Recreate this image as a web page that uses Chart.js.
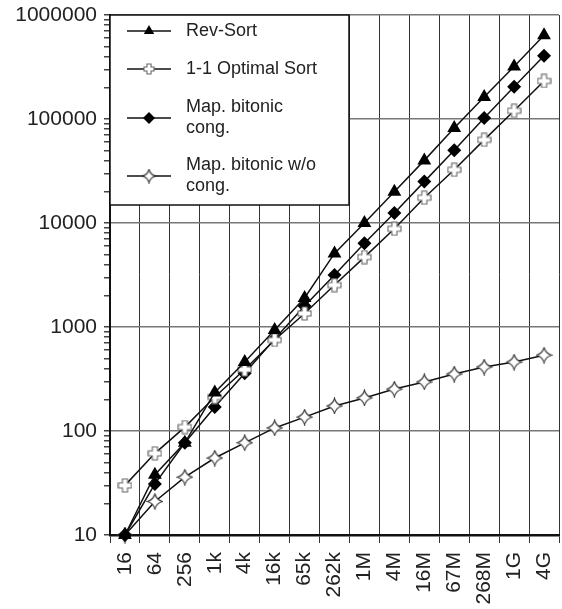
<!DOCTYPE html>
<html>
<head>
<meta charset="utf-8">
<script src="https://cdn.jsdelivr.net/npm/chart.js@4.4.0/dist/chart.umd.min.js"></script>
<style>
  html, body { margin: 0; padding: 0; background: #fff; }
  #wrap { width: 562px; height: 609px; }
</style>
</head>
<body>
<div id="wrap"><canvas id="chart"></canvas></div>
<script>
const categories = ['16', '64', '256', '1k', '4k', '16k', '65k', '262k', '1M', '4M', '16M', '67M', '268M', '1G', '4G']
const revSort = [10, 38, 77, 235, 460, 935, 1900, 5100, 10000, 20000, 40000, 82000, 163000, 320000, 640000]
const optimalSort = [30, 61, 109, 212, 390, 750, 1350, 2530, 4700, 8800, 17500, 32500, 63000, 120000, 232000]
const bitonicCong = [10, 31, 77, 170, 360, 765, 1590, 3160, 6400, 12500, 25000, 50000, 102000, 204000, 405000]
const bitonicNoCong = [10, 21, 36, 55, 77, 107, 136, 174, 208, 253, 296, 353, 412, 460, 536]
const seriesNames = ['Rev-Sort', '1-1 Optimal Sort', ['Map. bitonic', 'cong.'], ['Map. bitonic w/o', 'cong.']]
const decades = [10, 100, 1000, 10000, 100000, 1000000]

const FONT = '"Liberation Sans", Arial, sans-serif'

// outlined plus marker
function plusMarker(size){
  const c = document.createElement('canvas')
  c.width = size; c.height = size
  const g = c.getContext('2d')
  const m = size / 2, r = size / 2 - 1, w = size * 0.17
  g.beginPath()
  g.moveTo(m - w, m - r); g.lineTo(m + w, m - r); g.lineTo(m + w, m - w)
  g.lineTo(m + r, m - w); g.lineTo(m + r, m + w); g.lineTo(m + w, m + w)
  g.lineTo(m + w, m + r); g.lineTo(m - w, m + r); g.lineTo(m - w, m + w)
  g.lineTo(m - r, m + w); g.lineTo(m - r, m - w); g.lineTo(m - w, m - w)
  g.closePath()
  g.fillStyle = '#fff'; g.fill()
  g.strokeStyle = '#666'; g.lineWidth = 1.1; g.stroke()
  return c
}

// hollow four-point star marker
function starMarker(size){
  const c = document.createElement('canvas')
  c.width = size; c.height = size
  const g = c.getContext('2d')
  const m = size / 2, r = size / 2 - 1, k = r * 0.22
  g.beginPath()
  g.moveTo(m, m - r)
  g.quadraticCurveTo(m + k, m - k, m + r, m)
  g.quadraticCurveTo(m + k, m + k, m, m + r)
  g.quadraticCurveTo(m - k, m + k, m - r, m)
  g.quadraticCurveTo(m - k, m - k, m, m - r)
  g.closePath()
  g.fillStyle = '#fff'; g.fill()
  g.strokeStyle = '#333'; g.lineWidth = 1.1; g.stroke()
  return c
}

const plusBig = plusMarker(15), plusSmall = plusMarker(12)
const starBig = starMarker(17), starSmall = starMarker(15)

function isDecade(v){
  const l = Math.log10(v)
  return Math.abs(l - Math.round(l)) < 1e-6
}

const legendBox = {
  id: 'legendBox',
  afterDraw(chart){
    const ctx = chart.ctx
    const left = chart.chartArea.left, top = chart.chartArea.top
    ctx.save()
    ctx.fillStyle = '#fff'
    ctx.fillRect(left, top, 239, 190)
    ctx.strokeStyle = '#111'
    ctx.lineWidth = 1.5
    ctx.strokeRect(left, top, 239, 190)
    const rows = [
      {y: top + 16, lines: [top + 16]},
      {y: top + 54, lines: [top + 54]},
      {y: top + 103, lines: [top + 92, top + 113]},
      {y: top + 161, lines: [top + 150, top + 171]}
    ]
    ctx.font = '18px ' + FONT
    ctx.textBaseline = 'middle'
    rows.forEach((row, i) => {
      ctx.strokeStyle = '#111'
      ctx.lineWidth = 1.5
      ctx.beginPath()
      ctx.moveTo(left + 17, row.y); ctx.lineTo(left + 61, row.y)
      ctx.stroke()
      const x = left + 39
      if (i === 0){
        ctx.fillStyle = '#000'
        Chart.helpers.drawPoint(ctx, {pointStyle: 'triangle', radius: 6, rotation: 0}, x, row.y)
      } else if (i === 1){
        ctx.drawImage(plusSmall, x - 6, row.y - 6)
      } else if (i === 2){
        ctx.fillStyle = '#000'
        Chart.helpers.drawPoint(ctx, {pointStyle: 'rectRot', radius: 6, rotation: 0}, x, row.y)
      } else {
        ctx.drawImage(starSmall, x - 7.5, row.y - 7.5)
      }
      ctx.fillStyle = '#222'
      const names = [].concat(seriesNames[i])
      names.forEach((t, j) => ctx.fillText(t, left + 76, row.lines[j]))
    })
    ctx.restore()
  }
}

const baseSet = {
  borderColor: '#111',
  borderWidth: 1.5,
  tension: 0,
  clip: false
}

new Chart(document.getElementById('chart'), {
  type: 'line',
  data: {
    labels: categories,
    datasets: [
      {...baseSet, label: 'Rev-Sort', data: revSort, pointStyle: 'triangle', pointRadius: 8, backgroundColor: '#000', pointBorderWidth: 0},
      {...baseSet, label: '1-1 Optimal Sort', data: optimalSort, pointStyle: plusBig},
      {...baseSet, label: 'Map. bitonic cong.', data: bitonicCong, pointStyle: 'rectRot', pointRadius: 7, backgroundColor: '#000', pointBorderWidth: 0},
      {...baseSet, label: 'Map. bitonic w/o cong.', data: bitonicNoCong, pointStyle: starBig}
    ]
  },
  options: {
    responsive: true,
    maintainAspectRatio: false,
    animation: false,
    layout: { autoPadding: false, padding: {top: 15, right: 3, left: 0, bottom: 0} },
    plugins: {
      legend: { display: false },
      tooltip: { enabled: false }
    },
    scales: {
      x: {
        type: 'category',
        offset: true,
        grid: { offset: true, color: '#333', lineWidth: 1, tickLength: 8, tickColor: '#333' },
        border: { color: '#111', width: 2.5 },
        ticks: {
          minRotation: 90, maxRotation: 90, autoSkip: false, padding: 9,
          color: '#222', font: {family: FONT, size: 21}
        },
        afterFit(scale){
          scale.height = 74
          scale.paddingLeft = 0
          scale.paddingRight = 0
        }
      },
      y: {
        type: 'logarithmic',
        min: 10,
        max: 1000000,
        afterBuildTicks(scale){
          const ticks = []
          decades.forEach((d, i) => {
            const last = i === decades.length - 1
            for (let s = 1; s <= (last ? 1 : 9); s++) ticks.push({value: d * s, major: s === 1})
          })
          scale.ticks = ticks
        },
        grid: {
          color: c => (c.tick && isDecade(c.tick.value)) ? '#777' : 'rgba(255,255,255,0)',
          lineWidth: 1.5,
          tickLength: 6,
          tickWidth: 1.5,
          tickColor: '#444'
        },
        border: { color: '#111', width: 2 },
        ticks: {
          autoSkip: false,
          padding: 7,
          color: '#222',
          font: {family: FONT, size: 21},
          callback: v => isDecade(v) ? String(Math.round(v)) : ''
        },
        afterFit(scale){
          scale.width = 110
          scale.paddingTop = 0
          scale.paddingBottom = 0
        }
      }
    }
  },
  plugins: [legendBox]
})
</script>
</body>
</html>
